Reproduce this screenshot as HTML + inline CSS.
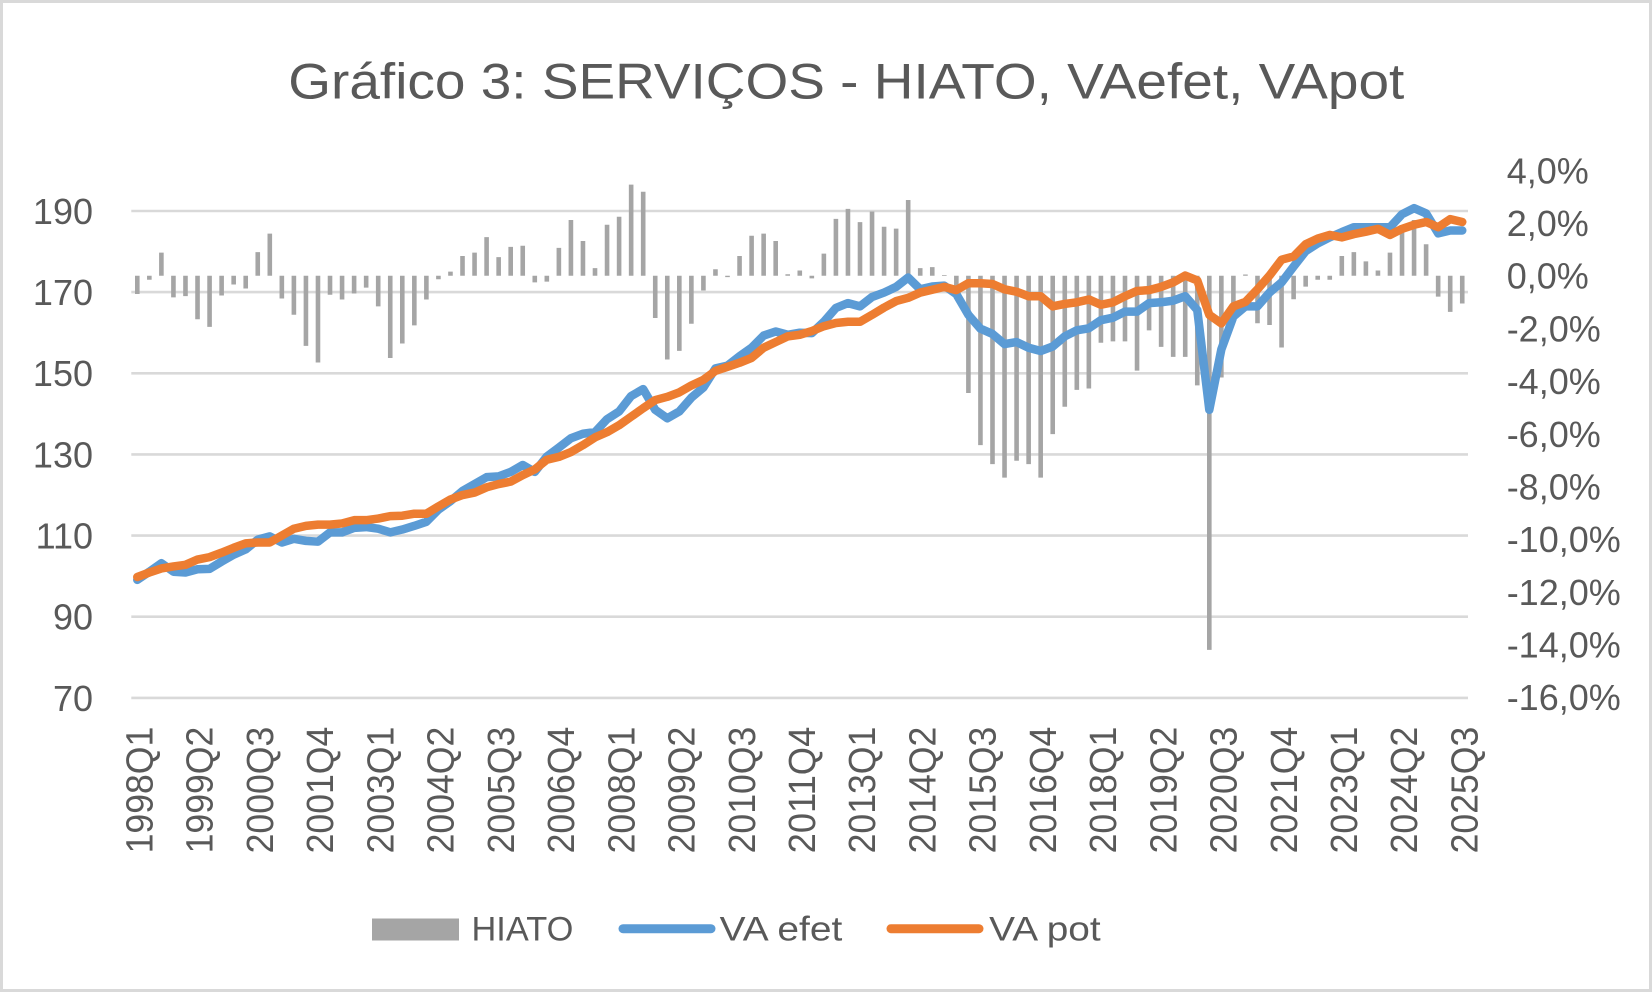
<!DOCTYPE html>
<html>
<head>
<meta charset="utf-8">
<style>
html,body{margin:0;padding:0;background:#fff;}
svg{display:block;}
text{font-family:"Liberation Sans",sans-serif;fill:#595959;}
</style>
</head>
<body>
<svg width="1652" height="992" viewBox="0 0 1652 992" xmlns="http://www.w3.org/2000/svg">
<rect x="0" y="0" width="1652" height="992" fill="#fff"/>
<rect x="1.5" y="1.5" width="1649" height="989" fill="none" stroke="#D9D9D9" stroke-width="3"/>

<!-- Title -->
<text x="288.3" y="98.3" font-size="50" textLength="1116" lengthAdjust="spacingAndGlyphs">Gráfico 3: SERVIÇOS - HIATO, VAefet, VApot</text>

<!-- Gridlines -->
<g stroke="#D9D9D9" stroke-width="2.6">
<line x1="131.3" x2="1468" y1="211.0" y2="211.0"/>
<line x1="131.3" x2="1468" y1="292.1" y2="292.1"/>
<line x1="131.3" x2="1468" y1="373.3" y2="373.3"/>
<line x1="131.3" x2="1468" y1="454.4" y2="454.4"/>
<line x1="131.3" x2="1468" y1="535.6" y2="535.6"/>
<line x1="131.3" x2="1468" y1="616.7" y2="616.7"/>
<line x1="131.3" x2="1468" y1="697.9" y2="697.9"/>
</g>

<!-- Left axis labels -->
<g font-size="36" text-anchor="end">
<text x="93" y="223.9">190</text>
<text x="93" y="305.0">170</text>
<text x="93" y="386.2">150</text>
<text x="93" y="467.3">130</text>
<text x="93" y="548.5">110</text>
<text x="93" y="629.6">90</text>
<text x="93" y="710.8">70</text>
</g>

<!-- Right axis labels -->
<g font-size="36">
<text x="1506.7" y="183.3">4,0%</text>
<text x="1506.7" y="236.0">2,0%</text>
<text x="1506.7" y="288.7">0,0%</text>
<text x="1506.7" y="341.4">-2,0%</text>
<text x="1506.7" y="394.1">-4,0%</text>
<text x="1506.7" y="446.8">-6,0%</text>
<text x="1506.7" y="499.4">-8,0%</text>
<text x="1506.7" y="552.1">-10,0%</text>
<text x="1506.7" y="604.8">-12,0%</text>
<text x="1506.7" y="657.5">-14,0%</text>
<text x="1506.7" y="710.2">-16,0%</text>
</g>

<!-- HIATO bars -->
<g transform="translate(137.3,275.8) scale(12.045,-26.34)">
<path fill="none" stroke="#A5A5A5" stroke-width="4.6" vector-effect="non-scaling-stroke" stroke-linecap="butt"
d="M0 0V-0.69M1 0V-0.15M2 0V0.88M3 0V-0.82M4 0V-0.77M5 0V-1.65M6 0V-1.94M7 0V-0.75M8 0V-0.33M9 0V-0.48
M10 0V0.90M11 0V1.60M12 0V-0.86M13 0V-1.48M14 0V-2.66M15 0V-3.29M16 0V-0.72M17 0V-0.90M18 0V-0.67M19 0V-0.45
M20 0V-1.16M21 0V-3.12M22 0V-2.57M23 0V-1.88M24 0V-0.90M25 0V-0.13M26 0V0.16M27 0V0.75M28 0V0.88M29 0V1.47
M30 0V0.71M31 0V1.10M32 0V1.14M33 0V-0.25M34 0V-0.22M35 0V1.06M36 0V2.12M37 0V1.32M38 0V0.29M39 0V1.94
M40 0V2.24M41 0V3.46M42 0V3.19M43 0V-1.60M44 0V-3.18M45 0V-2.85M46 0V-1.82M47 0V-0.56M48 0V0.25M49 0V-0.05
M50 0V0.75M51 0V1.52M52 0V1.60M53 0V1.32M54 0V0.06M55 0V0.20M56 0V-0.10M57 0V0.84M58 0V2.16M59 0V2.54
M60 0V2.04M61 0V2.44M62 0V1.86M63 0V1.79M64 0V2.88M65 0V0.29M66 0V0.33M67 0V0.03M68 0V-0.55M69 0V-4.45
M70 0V-6.43M71 0V-7.15M72 0V-7.66M73 0V-7.02M74 0V-7.15M75 0V-7.66M76 0V-6.01M77 0V-4.97M78 0V-4.33M79 0V-4.28
M80 0V-2.54M81 0V-2.49M82 0V-2.49M83 0V-3.60M84 0V-2.07M85 0V-2.70M86 0V-3.08M87 0V-3.08M88 0V-4.16M89 0V-14.2
M90 0V-3.86M91 0V-1.2M92 0V0.05M93 0V-1.80M94 0V-1.87M95 0V-2.72M96 0V-0.89M97 0V-0.41M98 0V-0.15M99 0V-0.15
M100 0V0.75M101 0V0.90M102 0V0.55M103 0V0.20M104 0V0.88M105 0V1.66M106 0V2.12M107 0V1.20M108 0V-0.79M109 0V-1.37
M110 0V-1.05"/>
</g>

<!-- Lines -->
<g transform="translate(137.3,697.9) scale(12.045,-4.0575) translate(0,-70)">
<polyline fill="none" stroke="#5B9BD5" stroke-width="8.5" vector-effect="non-scaling-stroke" stroke-linejoin="round" stroke-linecap="round"
points="0,99.1 1,101.1 2,103.2 3,101.1 4,100.9 5,101.7 6,101.8 7,103.6 8,105.3 9,106.6 10,109.0 11,109.8 12,108.3 13,109.2 14,108.7 15,108.5 16,110.8 17,110.8 18,111.9 19,112.1 20,111.7 21,110.8 22,111.5 23,112.4 24,113.4 25,116.4 26,118.5 27,121.0 28,122.7 29,124.4 30,124.6 31,125.7 32,127.4 33,125.7 34,129.5 35,131.7 36,134.0 37,135.1 38,135.5 39,138.7 40,140.6 41,144.4 42,146.1 43,141.0 44,138.9 45,140.6 46,144.0 47,146.5 48,151.2 49,151.9 50,154.2 51,156.3 52,159.3 53,160.3 54,159.5 55,160.0 56,159.9 57,162.7 58,166.1 59,167.3 60,166.5 61,168.8 62,169.9 63,171.3 64,173.6 65,170.7 66,171.4 67,171.6 68,169.5 69,164.4 70,161.0 71,159.7 72,157.2 73,157.7 74,156.3 75,155.5 76,156.6 77,159.1 78,160.6 79,161.1 80,163.1 81,163.7 82,165.2 83,165.2 84,167.3 85,167.5 86,167.9 87,169.0 88,165.6 89,141.0 90,155.9 91,164.0 92,166.5 93,166.5 94,169.9 95,172.4 96,176.3 97,180.1 98,182.0 99,183.5 100,184.8 101,186.0 102,186.0 103,186.0 104,186.0 105,189.2 106,190.7 107,189.4 108,184.5 109,185.2 110,185.2"/>
<polyline fill="none" stroke="#ED7D31" stroke-width="8.5" vector-effect="non-scaling-stroke" stroke-linejoin="round" stroke-linecap="round"
points="0,99.8 1,100.9 2,101.9 3,102.4 4,102.8 5,104.1 6,104.7 7,105.8 8,107.0 9,108.1 10,108.3 11,108.3 12,110.0 13,111.7 14,112.4 15,112.7 16,112.7 17,113.0 18,113.8 19,113.8 20,114.2 21,114.8 22,114.9 23,115.4 24,115.4 25,117.2 26,118.9 27,120.0 28,120.6 29,121.9 30,122.7 31,123.3 32,124.9 33,126.3 34,128.7 35,129.4 36,130.6 37,132.3 38,134.2 39,135.5 40,137.2 41,139.3 42,141.4 43,143.4 44,144.2 45,145.3 46,147.0 47,148.4 48,150.6 49,151.6 50,152.6 51,153.8 52,156.3 53,157.7 54,159.1 55,159.5 56,160.4 57,161.6 58,162.4 59,162.7 60,162.7 61,164.4 62,166.2 63,167.8 64,168.6 65,169.9 66,170.6 67,171.3 68,170.5 69,172.2 70,172.2 71,172.0 72,170.7 73,170.1 74,169.0 75,169.0 76,166.5 77,167.1 78,167.5 79,168.2 80,166.9 81,167.5 82,169.0 83,170.3 84,170.5 85,171.3 86,172.4 87,174.1 88,172.9 89,164.4 90,162.3 91,166.5 92,167.6 93,170.7 94,174.1 95,178.0 96,178.8 97,181.8 98,183.2 99,184.1 100,183.5 101,184.3 102,184.9 103,185.6 104,184.1 105,185.6 106,186.6 107,187.3 108,186.0 109,188.0 110,187.3"/>
</g>

<!-- X axis labels -->
<g font-size="38">
<text transform="translate(152.5,853.4) rotate(-90)" textLength="126.7" lengthAdjust="spacingAndGlyphs">1998Q1</text>
<text transform="translate(212.7,853.4) rotate(-90)" textLength="126.7" lengthAdjust="spacingAndGlyphs">1999Q2</text>
<text transform="translate(273.0,853.4) rotate(-90)" textLength="126.7" lengthAdjust="spacingAndGlyphs">2000Q3</text>
<text transform="translate(333.2,853.4) rotate(-90)" textLength="126.7" lengthAdjust="spacingAndGlyphs">2001Q4</text>
<text transform="translate(393.4,853.4) rotate(-90)" textLength="126.7" lengthAdjust="spacingAndGlyphs">2003Q1</text>
<text transform="translate(453.6,853.4) rotate(-90)" textLength="126.7" lengthAdjust="spacingAndGlyphs">2004Q2</text>
<text transform="translate(513.9,853.4) rotate(-90)" textLength="126.7" lengthAdjust="spacingAndGlyphs">2005Q3</text>
<text transform="translate(574.1,853.4) rotate(-90)" textLength="126.7" lengthAdjust="spacingAndGlyphs">2006Q4</text>
<text transform="translate(634.3,853.4) rotate(-90)" textLength="126.7" lengthAdjust="spacingAndGlyphs">2008Q1</text>
<text transform="translate(694.5,853.4) rotate(-90)" textLength="126.7" lengthAdjust="spacingAndGlyphs">2009Q2</text>
<text transform="translate(754.8,853.4) rotate(-90)" textLength="126.7" lengthAdjust="spacingAndGlyphs">2010Q3</text>
<text transform="translate(815.0,853.4) rotate(-90)" textLength="126.7" lengthAdjust="spacingAndGlyphs">2011Q4</text>
<text transform="translate(875.2,853.4) rotate(-90)" textLength="126.7" lengthAdjust="spacingAndGlyphs">2013Q1</text>
<text transform="translate(935.4,853.4) rotate(-90)" textLength="126.7" lengthAdjust="spacingAndGlyphs">2014Q2</text>
<text transform="translate(995.7,853.4) rotate(-90)" textLength="126.7" lengthAdjust="spacingAndGlyphs">2015Q3</text>
<text transform="translate(1055.9,853.4) rotate(-90)" textLength="126.7" lengthAdjust="spacingAndGlyphs">2016Q4</text>
<text transform="translate(1116.1,853.4) rotate(-90)" textLength="126.7" lengthAdjust="spacingAndGlyphs">2018Q1</text>
<text transform="translate(1176.3,853.4) rotate(-90)" textLength="126.7" lengthAdjust="spacingAndGlyphs">2019Q2</text>
<text transform="translate(1236.6,853.4) rotate(-90)" textLength="126.7" lengthAdjust="spacingAndGlyphs">2020Q3</text>
<text transform="translate(1296.8,853.4) rotate(-90)" textLength="126.7" lengthAdjust="spacingAndGlyphs">2021Q4</text>
<text transform="translate(1357.0,853.4) rotate(-90)" textLength="126.7" lengthAdjust="spacingAndGlyphs">2023Q1</text>
<text transform="translate(1417.2,853.4) rotate(-90)" textLength="126.7" lengthAdjust="spacingAndGlyphs">2024Q2</text>
<text transform="translate(1477.5,853.4) rotate(-90)" textLength="126.7" lengthAdjust="spacingAndGlyphs">2025Q3</text>
</g>

<!-- Legend -->
<rect x="372" y="918.5" width="87" height="22" fill="#A5A5A5"/>
<text x="471.5" y="940.7" font-size="34" textLength="101.8" lengthAdjust="spacingAndGlyphs">HIATO</text>
<line x1="623" x2="711" y1="928.7" y2="928.7" stroke="#5B9BD5" stroke-width="9" stroke-linecap="round"/>
<text x="719.7" y="940.7" font-size="34" textLength="122.6" lengthAdjust="spacingAndGlyphs">VA efet</text>
<line x1="891" x2="979" y1="928.7" y2="928.7" stroke="#ED7D31" stroke-width="9" stroke-linecap="round"/>
<text x="989.2" y="940.7" font-size="34" textLength="111.5" lengthAdjust="spacingAndGlyphs">VA pot</text>
</svg>
</body>
</html>
